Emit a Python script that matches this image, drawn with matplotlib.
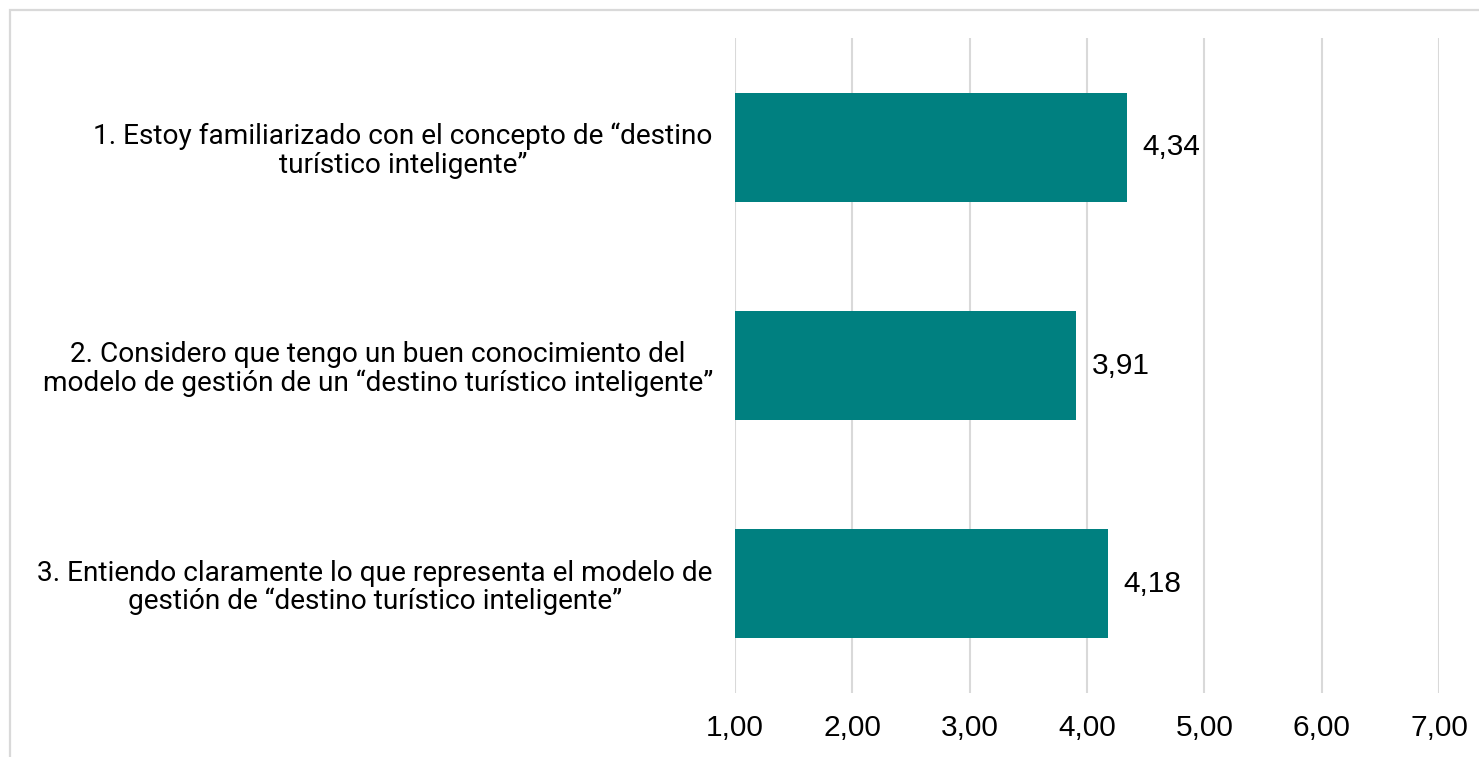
import matplotlib.pyplot as plt
from matplotlib.patches import Rectangle

items = [
    "1. Estoy familiarizado con el concepto de “destino\nturístico inteligente”",
    "2. Considero que tengo un buen conocimiento del\nmodelo de gestión de un “destino turístico inteligente”",
    "3. Entiendo claramente lo que representa el modelo de\ngestión de “destino turístico inteligente”",
]
means = [4.34, 3.91, 4.18]
x_ticks = [1, 2, 3, 4, 5, 6, 7]

teal = "#008080"
grid_grey = "#d9d9d9"

fig = plt.figure(figsize=(14.79, 7.57), dpi=100)
ax = fig.add_axes([735 / 1479, 64 / 757, 704 / 1479, 655 / 757])

pos = list(range(len(items)))
ax.barh(pos, [m - 1 for m in means], left=1, height=0.5, color=teal, zorder=3)

for p, m in zip(pos, means):
    ax.annotate(f"{m:.2f}".replace(".", ","), (m, p), xytext=(11, 0),
                textcoords="offset points", va="center", ha="left",
                fontsize=21.5, family="Liberation Sans", color="#000000")

ax.set_xlim(1, 7)
ax.set_ylim(len(items) - 0.5, -0.5)
ax.set_xticks(x_ticks)
ax.set_xticklabels([f"{v:.2f}".replace(".", ",") for v in x_ticks],
                   fontsize=21.5, family="Liberation Sans")
ax.set_yticks(pos)
ax.set_yticklabels(items, fontsize=20.2, family="Roboto",
                   multialignment="center", linespacing=1.05)
ax.tick_params(axis="x", length=0, pad=15)
ax.tick_params(axis="y", length=0, pad=16)
ax.grid(axis="x", color=grid_grey, linewidth=1.5, zorder=0)
for s in ax.spines.values():
    s.set_visible(False)

# chart-area frame, running off the right and bottom edges
fig.patches.append(Rectangle((9.5 / 1479, -0.1), 1.2, (757 - 9.5) / 757 + 0.1,
                             transform=fig.transFigure, fill=False,
                             edgecolor=grid_grey, linewidth=1.6))

fig.savefig("out.png", dpi=100)
